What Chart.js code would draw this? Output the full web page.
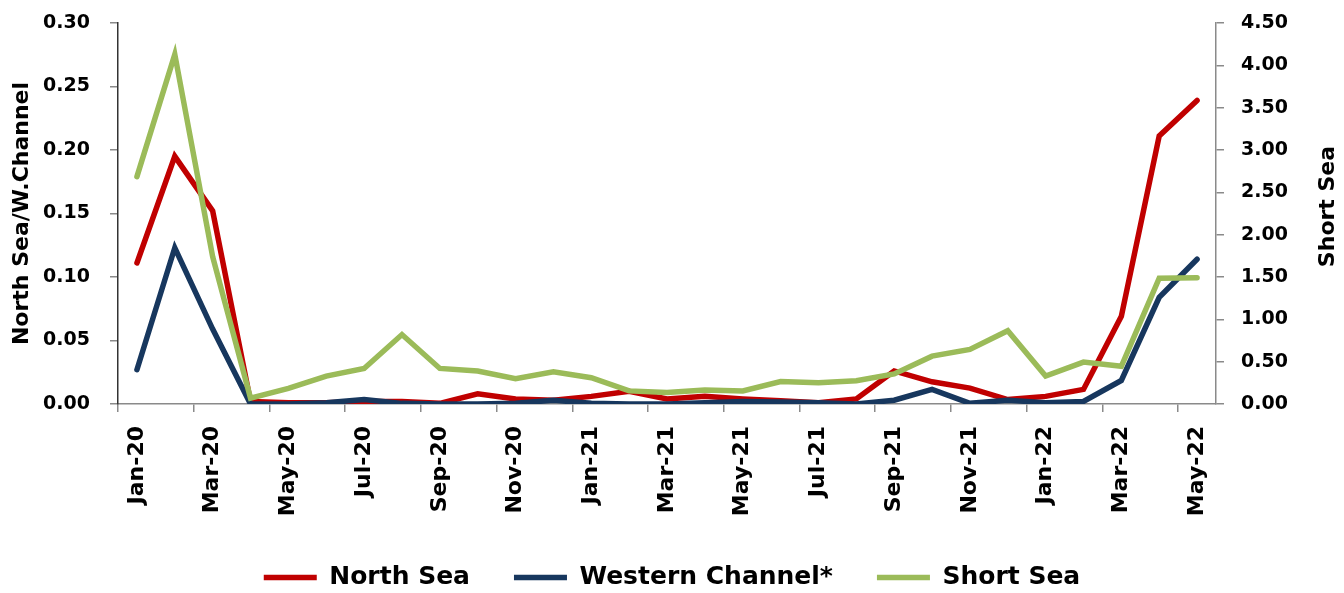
<!DOCTYPE html>
<html>
<head>
<meta charset="utf-8">
<script src="https://cdn.jsdelivr.net/npm/chart.js@4.4.0/dist/chart.umd.min.js"></script>
<style>
  html, body { margin: 0; background: #fff; }
  canvas { display: block; }
</style>
</head>
<body>
<canvas id="chart" width="1344" height="593"></canvas>
<script>
const months = [
    'Jan-20', 'Feb-20', 'Mar-20', 'Apr-20', 'May-20', 'Jun-20', 'Jul-20', 'Aug-20', 'Sep-20', 'Oct-20', 'Nov-20', 'Dec-20',
    'Jan-21', 'Feb-21', 'Mar-21', 'Apr-21', 'May-21', 'Jun-21', 'Jul-21', 'Aug-21', 'Sep-21', 'Oct-21', 'Nov-21', 'Dec-21',
    'Jan-22', 'Feb-22', 'Mar-22', 'Apr-22', 'May-22'
]

// left axis
const northSea = [0.111, 0.195, 0.152, 0.002, 0.001, 0.001, 0.002, 0.002, 0.0005, 0.008, 0.004, 0.003,
    0.006, 0.010, 0.004, 0.006, 0.004, 0.0025, 0.001, 0.004, 0.026, 0.0175, 0.0125, 0.0035,
    0.006, 0.0115, 0.069, 0.211, 0.239]
const westernChannel = [0.027, 0.123, 0.059, 0, 0, 0.001, 0.0035, 0.0005, 0, 0, 0.0005, 0.003,
    0.0005, 0, 0, 0.001, 0.002, 0.0015, 0.001, 0, 0.003, 0.0115, 0.0005, 0.003,
    0.001, 0.002, 0.0185, 0.084, 0.114]

// right axis
const shortSea = [2.685, 4.13, 1.74, 0.07, 0.185, 0.33, 0.42, 0.82, 0.42, 0.39, 0.30, 0.38,
    0.31, 0.155, 0.135, 0.165, 0.155, 0.265, 0.25, 0.275, 0.355, 0.565, 0.645, 0.865,
    0.33, 0.495, 0.445, 1.485, 1.49]

const leftAxis = { min: 0, max: 0.30, step: 0.05, title: 'North Sea/W.Channel' }
const rightAxis = { min: 0, max: 4.50, step: 0.50, title: 'Short Sea' }

const FONT = 'DejaVu Sans'
const grey = '#8a8a8a'

// chart.js writes a right-hand title top-to-bottom, so both titles are drawn here
const axisTitles = {
    id: 'axisTitles',
    afterDraw(chart) {
        const { ctx, chartArea } = chart
        const mid = (chartArea.top + chartArea.bottom) / 2
        ctx.save()
        ctx.font = `bold 22px ${FONT}`
        ctx.fillStyle = '#000'
        ctx.textAlign = 'center'
        ctx.textBaseline = 'middle'
        const titles = [[leftAxis.title, 22, mid], [rightAxis.title, 1328, mid - 7]]
        titles.forEach(([text, x, y]) => {
            ctx.save()
            ctx.translate(x, y)
            ctx.rotate(-Math.PI / 2)
            ctx.fillText(text, 0, 0)
            ctx.restore()
        })
        ctx.restore()
    }
}

const line = (label, data, color, axis, order) => ({
    label, data, yAxisID: axis, order,
    borderColor: color,
    backgroundColor: color,
    borderWidth: 5.5,
    borderCapStyle: 'round',
    pointRadius: 0,
    tension: 0,
})

const yAxis = (cfg, position, width, padding, borderColor) => ({
    position,
    min: cfg.min,
    max: cfg.max,
    ticks: {
        stepSize: cfg.step,
        padding,
        color: '#000',
        font: { family: FONT, size: 19, weight: 'bold' },
        callback: v => v.toFixed(2),
    },
    grid: { drawOnChartArea: false, tickLength: 8, color: grey, lineWidth: 1.5 },
    border: { color: borderColor, width: 1.5 },
    afterFit: s => {
        s.width = width
        // tick padding would otherwise push the plot top down
        s.paddingTop = 0
        s.paddingBottom = 0
    },
})

new Chart(document.getElementById('chart'), {
    type: 'line',
    data: {
        labels: months,
        datasets: [
            line('North Sea', northSea, '#C00000', 'y', 3),
            line('Western Channel*', westernChannel, '#17375E', 'y', 2),
            line('Short Sea', shortSea, '#9BBB59', 'y2', 1),
        ]
    },
    options: {
        responsive: false,
        animation: false,
        layout: { padding: { top: 23, bottom: -7, left: 0, right: 0 } },
        scales: {
            x: {
                offset: true,
                grid: {
                    offset: true,
                    drawOnChartArea: false,
                    tickLength: 8,
                    lineWidth: 1.5,
                    color: c => c.index % 2 === 0 ? grey : 'rgba(0,0,0,0)',
                },
                border: { color: grey, width: 1.5 },
                ticks: {
                    autoSkip: false,
                    maxRotation: 90,
                    minRotation: 90,
                    padding: 14,
                    color: '#000',
                    font: { family: FONT, size: 22, weight: 'bold' },
                    callback: (v, i) => i % 2 === 0 ? months[i] : '',
                },
                afterFit: s => { s.height = 117 },
            },
            y: yAxis(leftAxis, 'left', 118, 20, '#333'),
            y2: yAxis(rightAxis, 'right', 128, 17, grey),
        },
        plugins: {
            tooltip: { enabled: false },
            legend: {
                position: 'bottom',
                labels: {
                    usePointStyle: true,
                    pointStyle: 'line',
                    pointStyleWidth: 53,
                    boxHeight: 5,
                    padding: 44,
                    color: '#000',
                    font: { family: FONT, size: 25, weight: 'bold' },
                    sort: (a, b) => a.datasetIndex - b.datasetIndex,
                }
            }
        }
    },
    plugins: [axisTitles]
})
</script>
</body>
</html>
